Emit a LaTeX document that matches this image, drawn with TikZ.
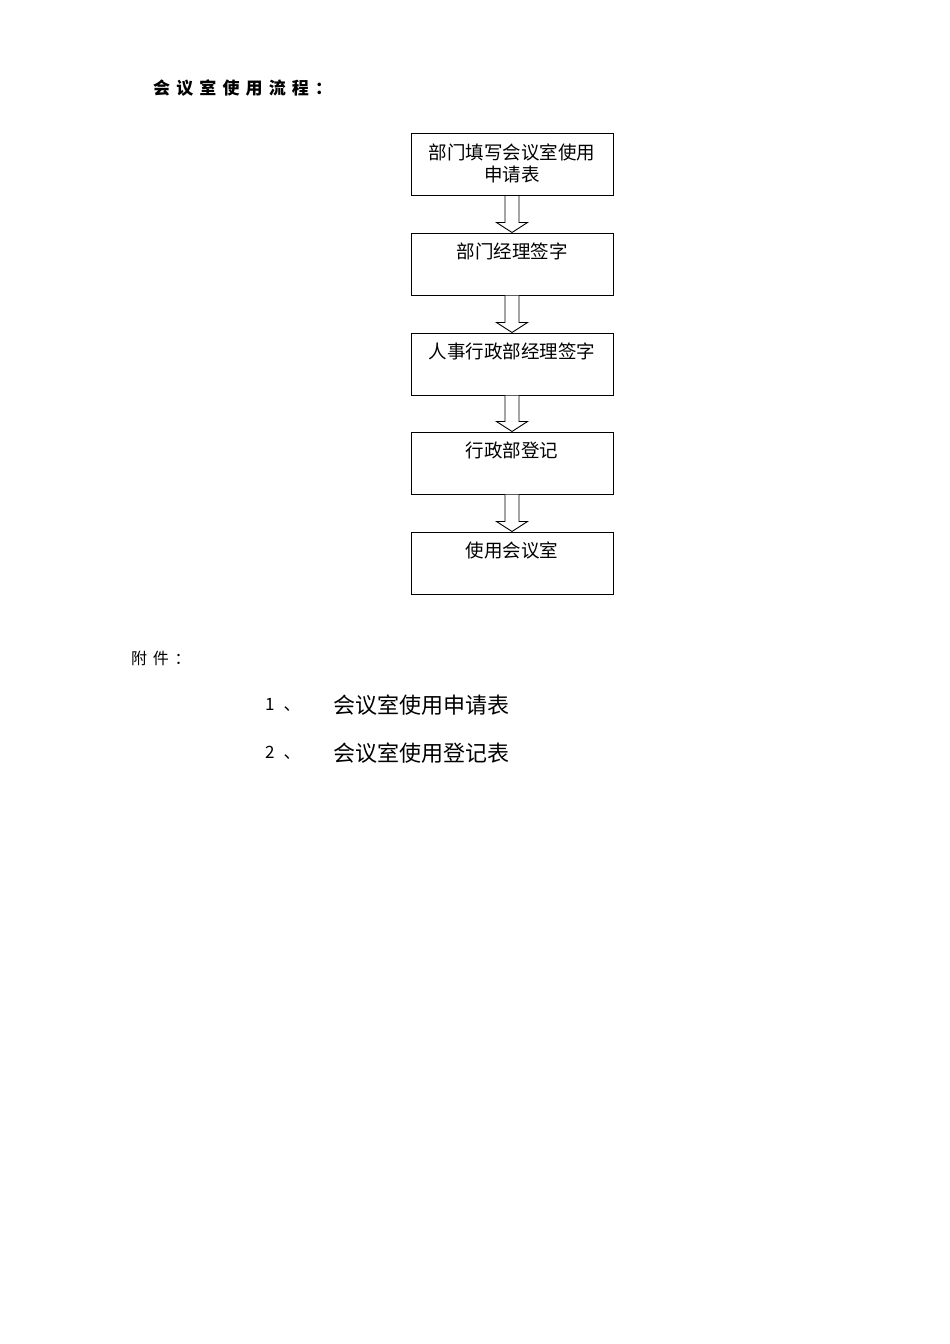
\documentclass[tikz,border=0pt]{standalone}
\usepackage{fontspec}
\newfontfamily\cjk{Noto Sans CJK SC}
\newfontfamily\cjksp[LetterSpace=36]{Noto Sans CJK SC}
\usetikzlibrary{calc}
\tikzset{
  stepbox/.style={draw, line width=1pt, minimum width=202pt, minimum height=62pt, inner sep=0pt},
  boxtext/.style={anchor=north, align=center, inner sep=0pt, font=\cjk\fontsize{18.5}{22}\selectfont},
  hollowarrow/.style={draw, line width=0.9pt, fill=white, line join=miter}
}
\newcommand{\blockarrow}[2]{%
  \draw[hollowarrow] ($(#1.south)+(-7,0)$) -- ($(#2.north)+(-7,-10)$) -- ($(#2.north)+(-15.5,-10)$)
    -- (#2.north) -- ($(#2.north)+(15.5,-10)$) -- ($(#2.north)+(7,-10)$) -- ($(#1.south)+(7,0)$);}
\begin{document}
\begin{tikzpicture}[x=1pt,y=-1pt]
\useasboundingbox[fill=white] (0,0) rectangle (950,1344);
\node[anchor=west, inner sep=0pt, font=\cjksp\bfseries\fontsize{17}{20}\selectfont] (title) at (153,88) {会议室使用流程：};
\node[stepbox] (b1) at (512,164.5) {};
\node[stepbox] (b2) at (512,264) {};
\node[stepbox] (b3) at (512,364) {};
\node[stepbox] (b4) at (512,463) {};
\node[stepbox] (b5) at (512,563) {};
\node[boxtext] (t1) at ($(b1.north)+(0,11)$) {部门填写会议室使用\\申请表};
\node[boxtext] (t2) at ($(b2.north)+(0,10)$) {部门经理签字};
\node[boxtext] (t3) at ($(b3.north)+(0,10)$) {人事行政部经理签字};
\node[boxtext] (t4) at ($(b4.north)+(0,10)$) {行政部登记};
\node[boxtext] (t5) at ($(b5.north)+(0,10)$) {使用会议室};
\blockarrow{b1}{b2}
\blockarrow{b2}{b3}
\blockarrow{b3}{b4}
\blockarrow{b4}{b5}
\node[anchor=west, inner sep=0pt, font=\cjksp\fontsize{16}{18}\selectfont] (att) at (131,658) {附件：};
\node[anchor=west, inner sep=0pt, font=\cjk\fontsize{17}{20}\selectfont] (n1) at (265,705) {1\hspace{9pt}、};
\node[anchor=west, inner sep=0pt, font=\cjk\fontsize{22}{24}\selectfont] (a1) at (333,705) {会议室使用申请表};
\node[anchor=west, inner sep=0pt, font=\cjk\fontsize{17}{20}\selectfont] (n2) at (265,753) {2\hspace{9pt}、};
\node[anchor=west, inner sep=0pt, font=\cjk\fontsize{22}{24}\selectfont] (a2) at (333,753) {会议室使用登记表};
\end{tikzpicture}
\end{document}
